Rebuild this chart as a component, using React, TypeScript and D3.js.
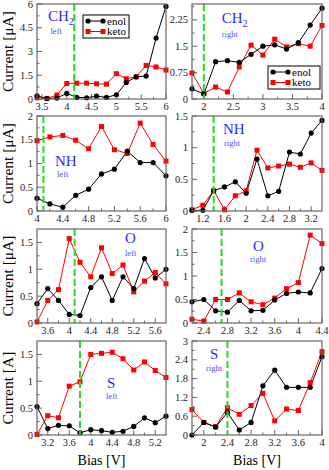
import React from "react";
import * as d3 from "d3";

// ---- data (bias in V, current in uA) ----
const ch2LeftBias = [3.4, 3.6, 3.8, 4.0, 4.2, 4.4, 4.6, 4.8, 5.0, 5.2, 5.4, 5.6, 5.8, 6.0];
const ch2LeftEnol = [0.2, 0.03, 0.06, 0.35, 0.1, 0.08, 0.18, 0.1, 0.27, 1.05, 1.4, 1.45, 3.85, 5.85];
const ch2LeftKeto = [0.07, 0.04, 0.25, 0.98, 1.0, 1.0, 0.96, 0.94, 1.6, 1.28, 1.4, 2.12, 2.02, 1.83];

const ch2RightBias = [1.8, 2.0, 2.2, 2.4, 2.6, 2.8, 3.0, 3.2, 3.4, 3.6, 3.8, 4.0];
const ch2RightEnol = [0.29, 0.14, 1.06, 1.09, 1.04, 1.27, 1.5, 1.54, 1.42, 1.6, 2.1, 2.58];
const ch2RightKeto = [0.74, 0.16, 0.34, 0.2, 0.91, 1.53, 1.25, 1.7, 1.48, 1.57, 1.5, 2.09];

const nhLeftBias = [4.0, 4.2, 4.4, 4.6, 4.8, 5.0, 5.2, 5.4, 5.6, 5.8, 6.0];
const nhLeftEnol = [0.27, 0.15, 0.08, 0.33, 0.46, 0.78, 0.88, 1.26, 1.02, 1.02, 0.74];
const nhLeftKeto = [1.48, 1.56, 1.59, 1.49, 1.31, 1.78, 1.29, 1.21, 1.85, 1.4, 1.05];

const nhRightBias = [1.0, 1.2, 1.4, 1.6, 1.8, 2.0, 2.2, 2.4, 2.6, 2.8, 3.0, 3.2, 3.4];
const nhRightEnol = [0.01, 0.01, 0.32, 0.38, 0.46, 0.28, 0.82, 0.24, 0.31, 0.93, 0.9, 1.23, 1.43];
const nhRightKeto = [0.02, 0.09, 0.32, 0.02, 0.24, 0.32, 0.96, 0.68, 0.71, 0.74, 0.69, 0.76, 0.64];

const oLeftBias = [3.4, 3.6, 3.8, 4.0, 4.2, 4.4, 4.6, 4.8, 5.0, 5.2, 5.4, 5.6, 5.8];
const oLeftEnol = [0.36, 0.64, 0.42, 0.16, 0.14, 0.66, 0.86, 0.42, 0.86, 0.64, 1.2, 0.84, 1.0];
const oLeftKeto = [0.02, 0.42, 0.62, 1.57, 1.13, 0.86, 1.4, 0.92, 1.08, 0.58, 0.78, 0.94, 0.73];

const oRightBias = [2.2, 2.4, 2.6, 2.8, 3.0, 3.2, 3.4, 3.6, 3.8, 4.0, 4.2, 4.4];
const oRightEnol = [0.45, 0.5, 0.26, 0.23, 0.48, 0.26, 0.27, 0.49, 0.63, 0.66, 0.64, 1.16];
const oRightKeto = [0.08, 0.04, 0.5, 0.5, 0.64, 0.45, 0.39, 0.53, 0.73, 0.86, 1.87, 1.69];

const sLeftBias = [3.0, 3.2, 3.4, 3.6, 3.8, 4.0, 4.2, 4.4, 4.6, 4.8, 5.0, 5.2, 5.4];
const sLeftEnol = [0.53, 0.12, 0.18, 0.17, 0.04, 0.1, 0.08, 0.05, 0.07, 0.16, 0.32, 0.23, 0.35];
const sLeftKeto = [0.01, 0.36, 0.32, 0.91, 0.99, 1.5, 1.52, 1.54, 1.42, 1.21, 1.36, 1.2, 1.07];

const sRightBias = [1.8, 2.0, 2.2, 2.4, 2.6, 2.8, 3.0, 3.2, 3.4, 3.6, 3.8, 4.0];
const sRightEnol = [0.0, 0.4, 0.25, 0.72, 0.16, 0.4, 1.57, 2.07, 1.52, 1.52, 1.52, 2.5];
const sRightKeto = [0.81, 0.4, 0.27, 0.87, 0.66, 0.94, 1.33, 0.45, 0.83, 0.78, 1.67, 2.66];

// tick labels
const ch2LeftXTicks = [3.5, 4, 4.5, 5, 5.5, 6];
const ch2LeftYTicks = [0, 1.5, 3, 4.5, 6];
const ch2RightXTicks = [2, 2.5, 3, 3.5, 4];
const ch2RightYTicks = [0, 0.75, 1.5, 2.25];
const nhLeftXTicks = [4, 4.4, 4.8, 5.2, 5.6, 6];
const nhLeftYTicks = [0, 0.5, 1, 1.5, 2];
const nhRightXTicks = [1.2, 1.6, 2, 2.4, 2.8, 3.2];
const nhRightYTicks = [0, 0.5, 1, 1.5];
const oLeftXTicks = [3.6, 4, 4.4, 4.8, 5.2, 5.6];
const oLeftYTicks = [0, 0.5, 1, 1.5];
const oRightXTicks = [2.4, 2.8, 3.2, 3.6, 4, 4.4];
const oRightYTicks = [0, 0.5, 1, 1.5, 2];
const sLeftXTicks = [3.2, 3.6, 4, 4.4, 4.8, 5.2];
const sLeftYTicks = [0, 0.5, 1, 1.5];
const sRightXTicks = [2, 2.4, 2.8, 3.2, 3.6, 4];
const sRightYTicks = [0, 0.6, 1.2, 1.8, 2.4, 3];

// ---- layout ----
const W = 329;
const H = 470;
const colX = [[37, 166], [192, 322]];
const rowY = [[4, 99], [116, 211], [229, 323], [341, 435]];
const SERIF = "'Liberation Serif', 'Times New Roman', serif";
const GREEN = "#22dd22";
const FRAME = "#666";

const panels = [
  { row: 0, col: 0, bias: ch2LeftBias, enol: ch2LeftEnol, keto: ch2LeftKeto, xDom: [3.4, 6], yDom: [0, 6],
    xTicks: ch2LeftXTicks, yTicks: ch2LeftYTicks, cut: 4.15, name: "CH", sub2: true, side: "left",
    nameAt: [11, 16.7], sideAt: [13.5, 30], legend: [46, 11, 46] },
  { row: 0, col: 1, bias: ch2RightBias, enol: ch2RightEnol, keto: ch2RightKeto, xDom: [1.8, 4], yDom: [0, 2.7],
    xTicks: ch2RightXTicks, yTicks: ch2RightYTicks, cut: 2.0, name: "CH", sub2: true, side: "right",
    nameAt: [29.7, 19.3], sideAt: [29.7, 33], legend: [76, 62, 52] },
  { row: 1, col: 0, bias: nhLeftBias, enol: nhLeftEnol, keto: nhLeftKeto, xDom: [4, 6], yDom: [0, 2],
    xTicks: nhLeftXTicks, yTicks: nhLeftYTicks, cut: 4.1, name: "NH", side: "left",
    nameAt: [18, 50], sideAt: [20, 61] },
  { row: 1, col: 1, bias: nhRightBias, enol: nhRightEnol, keto: nhRightKeto, xDom: [1.0, 3.4], yDom: [0, 1.5],
    xTicks: nhRightXTicks, yTicks: nhRightYTicks, cut: 1.4, name: "NH", side: "right",
    nameAt: [31, 18], sideAt: [32, 30] },
  { row: 2, col: 0, bias: oLeftBias, enol: oLeftEnol, keto: oLeftKeto, xDom: [3.4, 5.8], yDom: [0, 1.75],
    xTicks: oLeftXTicks, yTicks: oLeftYTicks, cut: 4.1, name: "O", side: "left",
    nameAt: [88, 14.3], sideAt: [88, 27] },
  { row: 2, col: 1, bias: oRightBias, enol: oRightEnol, keto: oRightKeto, xDom: [2.2, 4.4], yDom: [0, 2],
    xTicks: oRightXTicks, yTicks: oRightYTicks, cut: 2.7, name: "O", side: "right",
    nameAt: [61, 22], sideAt: [58, 33] },
  { row: 3, col: 0, bias: sLeftBias, enol: sLeftEnol, keto: sLeftKeto, xDom: [3.0, 5.4], yDom: [0, 1.75],
    xTicks: sLeftXTicks, yTicks: sLeftYTicks, cut: 3.8, name: "S", side: "left",
    nameAt: [70, 47], sideAt: [69, 58] },
  { row: 3, col: 1, bias: sRightBias, enol: sRightEnol, keto: sRightKeto, xDom: [1.8, 4], yDom: [0, 3],
    xTicks: sRightXTicks, yTicks: sRightYTicks, cut: 2.4, name: "S", side: "right",
    nameAt: [18, 18], sideAt: [14, 30] },
];

// one minor tick between majors, kept inside the domain
const minorTicks = (ticks: number[], dom: number[]) => {
  const step = ticks[1] - ticks[0];
  const all = [ticks[0] - step / 2, ...ticks.map((t) => t + step / 2)];
  return all.filter((t) => t > dom[0] + 1e-9 && t < dom[1] - 1e-9);
};

const Legend = ({ x, y, w }: { x: number; y: number; w: number }) => (
  <g transform={`translate(${x},${y})`}>
    <rect width={w} height={23} fill="#fff" stroke="#000" strokeWidth={1} />
    {[
      { label: "enol", color: "#000", dy: 6, circle: true },
      { label: "keto", color: "#ff0000", dy: 16.5, circle: false },
    ].map((e) => (
      <g key={e.label} transform={`translate(0,${e.dy})`}>
        <line x1={5} x2={20} stroke={e.color} strokeWidth={1} />
        {[5, 20].map((mx) =>
          e.circle ? (
            <circle key={mx} cx={mx} cy={0} r={2.6} fill="#000" />
          ) : (
            <rect key={mx} x={mx - 2.5} y={-2.5} width={5} height={5} fill="#ff0000" />
          )
        )}
        <text x={24} y={3.6} fontSize={11} fontFamily={SERIF} fill="#000">{e.label}</text>
      </g>
    ))}
  </g>
);

const Panel = ({ p }: { p: (typeof panels)[number] }) => {
  const [x0, x1] = colX[p.col];
  const [y0, y1] = rowY[p.row];
  const x = d3.scaleLinear().domain(p.xDom).range([x0, x1]);
  const y = d3.scaleLinear().domain(p.yDom).range([y1, y0]);
  const line = d3
    .line<number>()
    .x((_, i) => x(p.bias[i]))
    .y((v) => y(v));
  const xMinor = minorTicks(p.xTicks, p.xDom);
  const yMinor = minorTicks(p.yTicks, p.yDom);
  const fmt = (v: number) => String(v);

  return (
    <g>
      {/* inward ticks */}
      {p.xTicks.map((t) => (
        <line key={"xt" + t} x1={x(t)} x2={x(t)} y1={y1} y2={y1 - 5} stroke={FRAME} />
      ))}
      {xMinor.map((t) => (
        <line key={"xm" + t} x1={x(t)} x2={x(t)} y1={y1} y2={y1 - 2.5} stroke={FRAME} />
      ))}
      {p.yTicks.map((t) => (
        <line key={"yt" + t} x1={x0} x2={x0 + 5} y1={y(t)} y2={y(t)} stroke={FRAME} />
      ))}
      {yMinor.map((t) => (
        <line key={"ym" + t} x1={x0} x2={x0 + 2.5} y1={y(t)} y2={y(t)} stroke={FRAME} />
      ))}

      {/* tick labels */}
      {p.xTicks.map((t) => (
        <text key={"xl" + t} x={x(t)} y={y1 + 10.5} fontSize={10.5} textAnchor="middle" fontFamily={SERIF} fill="#222">
          {fmt(t)}
        </text>
      ))}
      {p.yTicks.map((t) => (
        <text key={"yl" + t} x={x0 - 4} y={y(t) + 3.6} fontSize={10.5} textAnchor="end" fontFamily={SERIF} fill="#222">
          {fmt(t)}
        </text>
      ))}

      {/* molecule label */}
      <text x={x0 + p.nameAt[0]} y={y0 + p.nameAt[1]} fontSize={15} fontFamily={SERIF} fill="#2a2aff">
        {p.name}
        {p.sub2 && (
          <tspan fontSize={10} dy={4}>2</tspan>
        )}
      </text>
      <text x={x0 + p.sideAt[0]} y={y0 + p.sideAt[1]} fontSize={8.5} fontFamily={SERIF} fill="#4d4dff">
        {p.side}
      </text>

      {/* series */}
      <path d={line(p.keto) || ""} fill="none" stroke="#ff0000" strokeWidth={1} />
      <path d={line(p.enol) || ""} fill="none" stroke="#000" strokeWidth={1} />
      {p.keto.map((v, i) => (
        <rect key={"k" + i} x={x(p.bias[i]) - 2.5} y={y(v) - 2.5} width={5} height={5} fill="#ff0000" />
      ))}
      {p.enol.map((v, i) => (
        <circle key={"e" + i} cx={x(p.bias[i])} cy={y(v)} r={2.6} fill="#000" />
      ))}

      {/* threshold */}
      <line x1={x(p.cut)} x2={x(p.cut)} y1={y0} y2={y1} stroke={GREEN} strokeWidth={2} strokeDasharray="7 3" />

      {p.legend && <Legend x={x0 + p.legend[0]} y={y0 + p.legend[1]} w={p.legend[2]} />}

      <rect x={x0} y={y0} width={x1 - x0} height={y1 - y0} fill="none" stroke={FRAME} strokeWidth={1.2} />
    </g>
  );
};

export default function App() {
  return (
    <svg width={W} height={H} style={{ position: "absolute", left: 0, top: 0, background: "#fff" }}>
      {panels.map((p, i) => (
        <Panel key={i} p={p} />
      ))}
      {rowY.map(([a, b], r) => (
        <text
          key={"yl" + r}
          transform={`translate(13,${(a + b) / 2}) rotate(-90)`}
          textAnchor="middle"
          fontSize={15.5}
          fontFamily={SERIF}
          fill="#000"
        >
          {r === 3 ? "Current [A]" : "Current [\u03bcA]"}
        </text>
      ))}
      {colX.map(([a, b], c) => (
        <text key={"xl" + c} x={(a + b) / 2} y={465} textAnchor="middle" fontSize={14} fontFamily={SERIF} fill="#000">
          Bias [V]
        </text>
      ))}
    </svg>
  );
}
